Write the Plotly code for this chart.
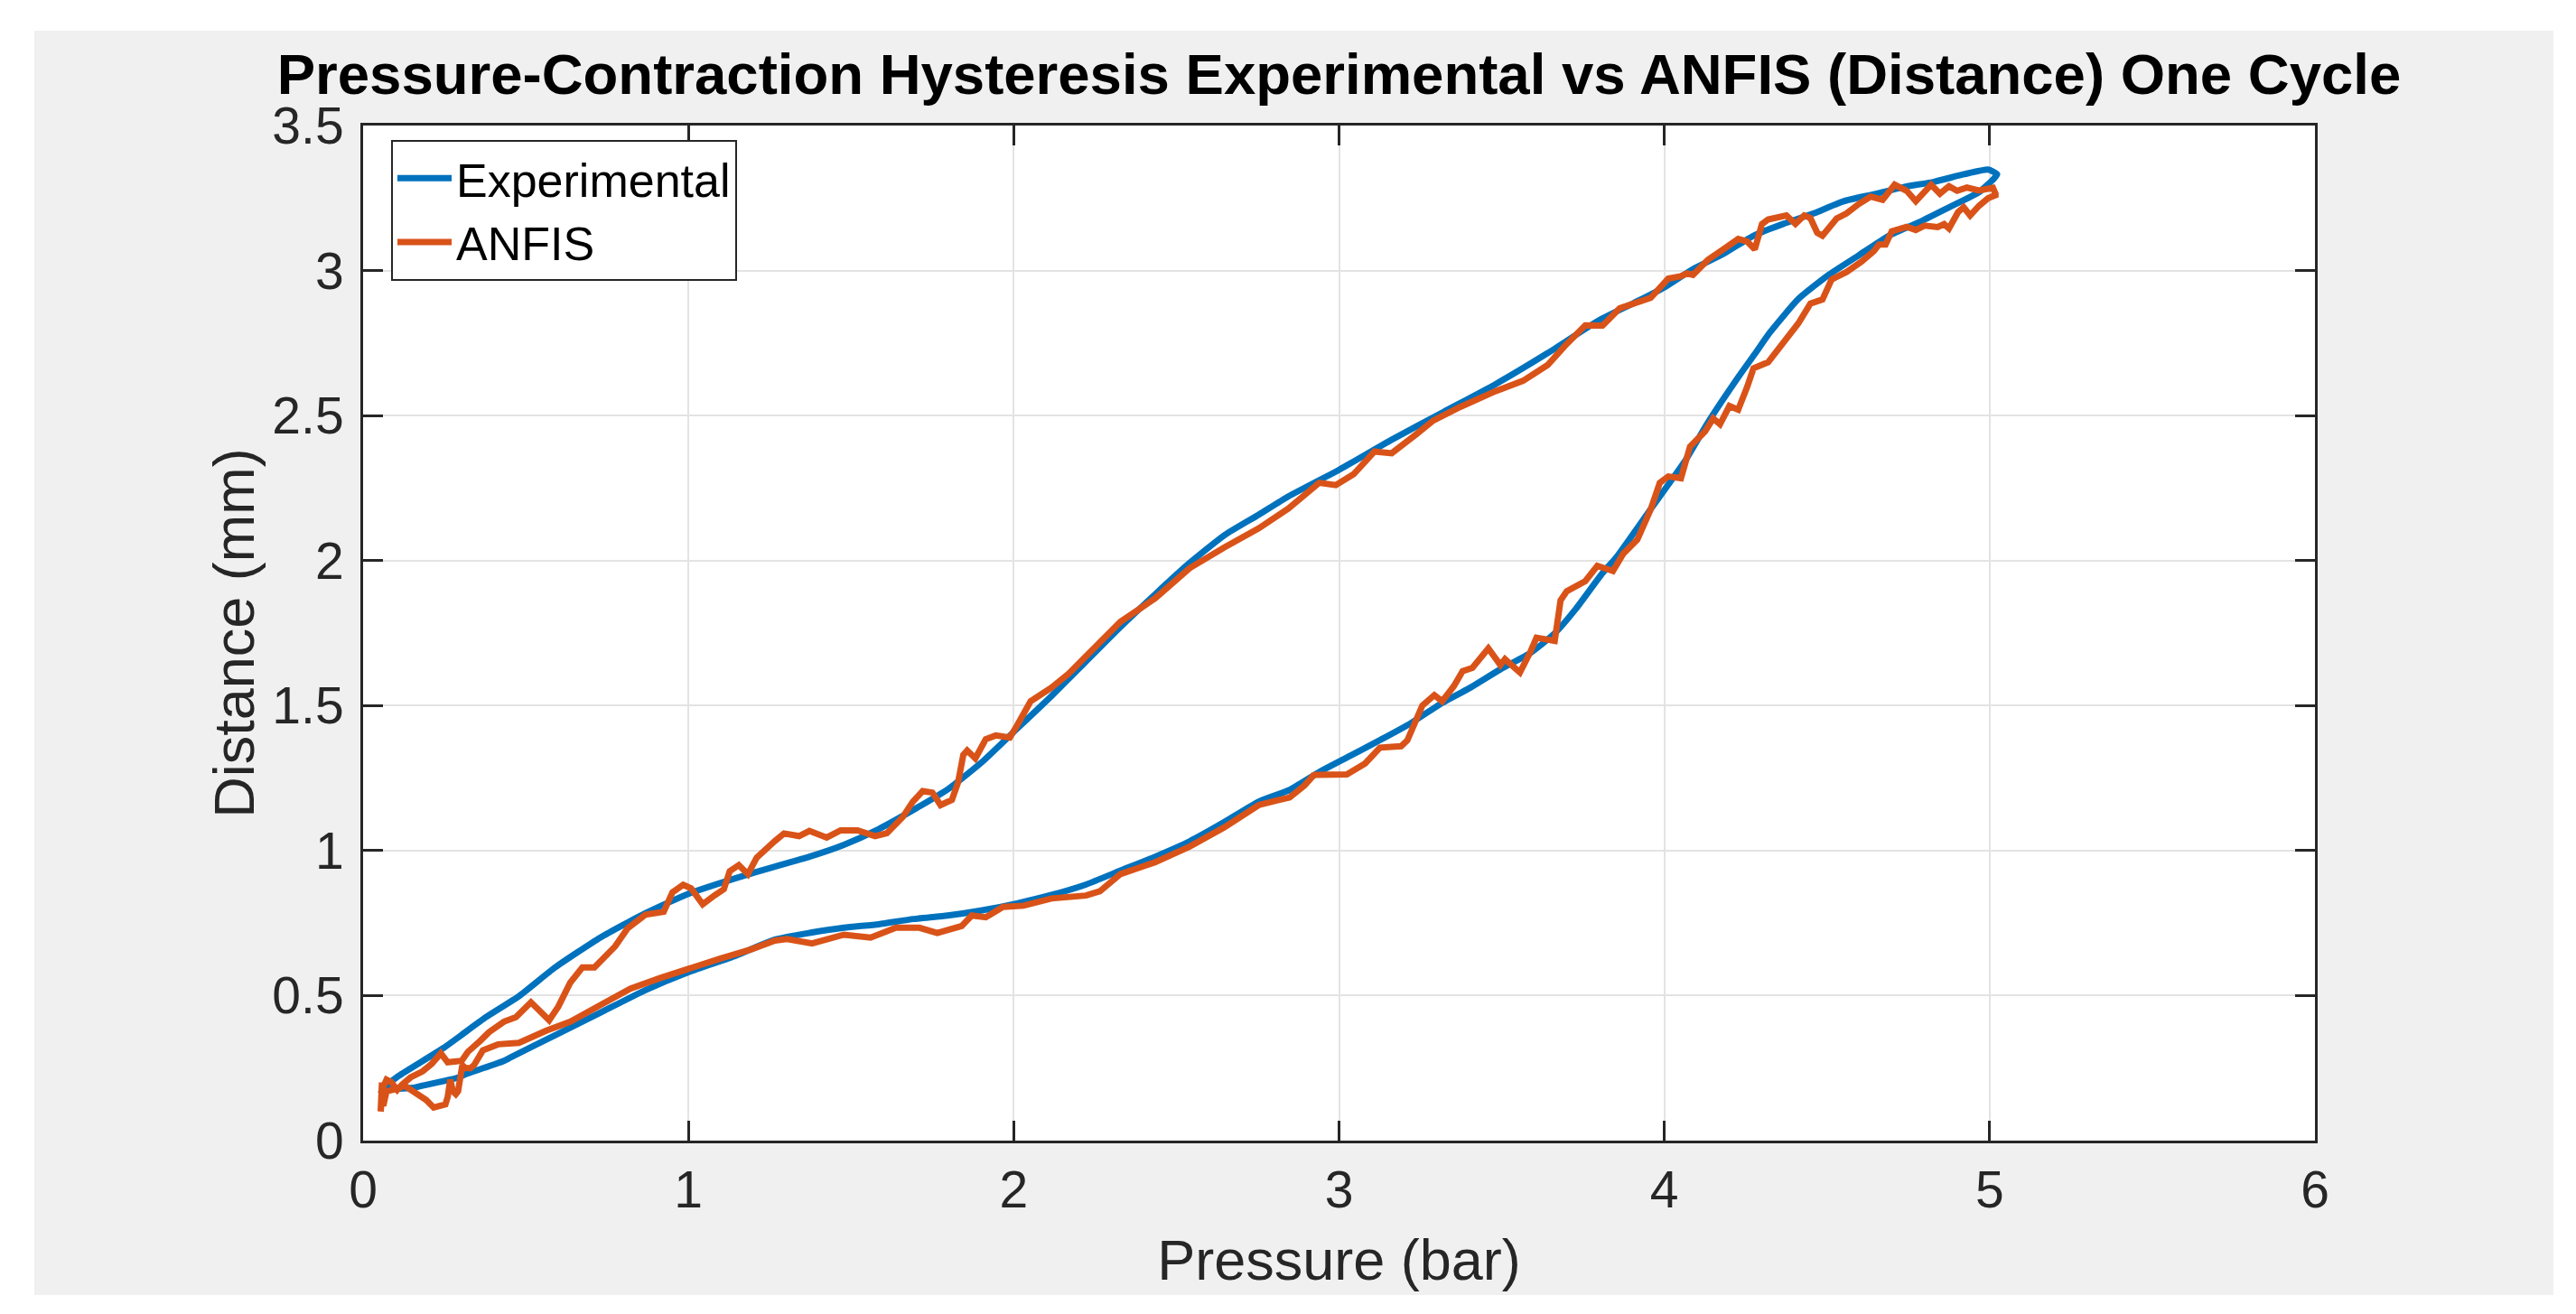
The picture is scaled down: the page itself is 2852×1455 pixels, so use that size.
import plotly.graph_objects as go

# ---------------- data ----------------
# Experimental: loading branch (pressure increasing)
exp_load_p = [0.055, 0.09, 0.155, 0.174, 0.294, 0.313, 0.433, 0.452, 0.59, 0.729, 0.868, 1.0,
              1.146, 1.266, 1.372, 1.478, 1.585, 1.691, 1.797, 1.903, 2.01, 2.116, 2.222, 2.328,
              2.435, 2.541, 2.647, 2.753, 2.848, 2.941, 3.033, 3.126, 3.219, 3.311, 3.404, 3.496,
              3.589, 3.663, 3.727, 3.81, 3.853, 3.959, 4.065, 4.134, 4.227, 4.278, 4.325, 4.412,
              4.505, 4.597, 4.69, 4.782, 4.875, 4.967, 5.013, 5.023]
exp_load_d = [0.17, 0.178, 0.182, 0.187, 0.218, 0.228, 0.275, 0.286, 0.363, 0.441, 0.519, 0.581,
              0.638, 0.693, 0.716, 0.734, 0.746, 0.764, 0.776, 0.794, 0.818, 0.847, 0.883, 0.931,
              0.979, 1.032, 1.098, 1.169, 1.209, 1.272, 1.326, 1.381, 1.438, 1.505, 1.562, 1.625,
              1.682, 1.749, 1.832, 1.957, 2.012, 2.179, 2.346, 2.476, 2.632, 2.712, 2.787, 2.902,
              2.985, 3.052, 3.12, 3.166, 3.218, 3.27, 3.317, 3.332]
# Experimental: unloading branch (pressure decreasing)
exp_unload_p = [4.995, 4.921, 4.829, 4.736, 4.644, 4.551, 4.459, 4.366, 4.274, 4.181, 4.088, 4.0,
                3.906, 3.8, 3.641, 3.481, 3.322, 3.162, 3.0, 2.844, 2.753, 2.647, 2.541, 2.435,
                2.328, 2.222, 2.116, 2.01, 1.903, 1.797, 1.691, 1.585, 1.478, 1.372, 1.266, 1.146,
                1.0, 0.868, 0.729, 0.59, 0.479, 0.378, 0.248, 0.109, 0.072, 0.055]
exp_unload_d = [3.348, 3.332, 3.306, 3.288, 3.263, 3.239, 3.197, 3.161, 3.12, 3.057, 3.005, 2.942,
                2.888, 2.829, 2.715, 2.608, 2.513, 2.417, 2.313, 2.221, 2.158, 2.087, 1.992, 1.884,
                1.771, 1.652, 1.533, 1.42, 1.306, 1.211, 1.14, 1.074, 1.02, 0.979, 0.945, 0.905,
                0.851, 0.784, 0.70, 0.597, 0.498, 0.426, 0.32, 0.223, 0.19, 0.17]

# ANFIS: loading branch
anfis_load_p = [0.054, 0.058, 0.062, 0.072, 0.09, 0.11, 0.127, 0.145, 0.161, 0.18, 0.194, 0.217,
                0.235, 0.253, 0.26, 0.268, 0.276, 0.285, 0.292, 0.30, 0.305, 0.315, 0.33, 0.341,
                0.368, 0.415, 0.479, 0.563, 0.637, 0.729, 0.822, 0.914, 1.007, 1.099, 1.192, 1.266,
                1.303, 1.38, 1.478, 1.56, 1.638, 1.71, 1.765, 1.84, 1.871, 1.914, 1.967, 2.03,
                2.116, 2.222, 2.265, 2.328, 2.435, 2.541, 2.647, 2.753, 2.817, 2.848, 2.894, 2.922,
                2.931, 3.024, 3.08, 3.126, 3.191, 3.21, 3.256, 3.293, 3.317, 3.353, 3.38, 3.41,
                3.459, 3.496, 3.51, 3.556, 3.589, 3.607, 3.663, 3.681, 3.70, 3.757, 3.794, 3.842,
                3.874, 3.917, 3.959, 3.986, 4.012, 4.051, 4.079, 4.125, 4.15, 4.171, 4.2, 4.227,
                4.255, 4.274, 4.319, 4.366, 4.412, 4.449, 4.486, 4.514, 4.56, 4.606, 4.644, 4.66,
                4.68, 4.699, 4.745, 4.773, 4.80, 4.84, 4.86, 4.875, 4.903, 4.92, 4.94, 4.967,
                4.995, 5.018]
anfis_load_d = [0.10, 0.20, 0.12, 0.17, 0.175, 0.18, 0.19, 0.175, 0.165, 0.145, 0.14, 0.114,
                0.12, 0.125, 0.15, 0.21, 0.17, 0.16, 0.17, 0.22, 0.26, 0.25, 0.25, 0.26,
                0.311, 0.332, 0.337, 0.379, 0.41, 0.467, 0.524, 0.561, 0.597, 0.628, 0.659, 0.69,
                0.695, 0.68, 0.71, 0.70, 0.734, 0.734, 0.716, 0.74, 0.776, 0.77, 0.806, 0.81,
                0.835, 0.845, 0.86, 0.919, 0.96, 1.014, 1.08, 1.157, 1.175, 1.183, 1.225, 1.26,
                1.261, 1.263, 1.30, 1.355, 1.36, 1.38, 1.50, 1.536, 1.515, 1.567, 1.619, 1.63,
                1.697, 1.64, 1.66, 1.614, 1.687, 1.734, 1.723, 1.863, 1.894, 1.929, 1.982, 1.964,
                2.024, 2.072, 2.179, 2.268, 2.29, 2.284, 2.393, 2.445, 2.49, 2.47, 2.533, 2.52,
                2.60, 2.663, 2.684, 2.751, 2.818, 2.886, 2.90, 2.969, 2.995, 3.031, 3.067, 3.09,
                3.09, 3.135, 3.151, 3.14, 3.155, 3.15, 3.16, 3.145, 3.202, 3.218, 3.19, 3.223,
                3.249, 3.26]
# ANFIS: unloading branch
anfis_unload_p = [5.018, 5.01, 4.967, 4.93, 4.90, 4.875, 4.847, 4.82, 4.773, 4.745, 4.708, 4.671,
                  4.634, 4.597, 4.56, 4.53, 4.486, 4.47, 4.449, 4.43, 4.403, 4.375, 4.357, 4.319,
                  4.30, 4.278, 4.255, 4.227, 4.181, 4.134, 4.088, 4.07, 4.05, 4.012, 3.958, 3.863,
                  3.81, 3.757, 3.694, 3.641, 3.566, 3.481, 3.375, 3.29, 3.237, 3.162, 3.109, 3.045,
                  2.99, 2.939, 2.844, 2.753, 2.647, 2.541, 2.435, 2.328, 2.222, 2.169, 2.116, 2.052,
                  2.01, 1.988, 1.945, 1.914, 1.882, 1.857, 1.845, 1.829, 1.81, 1.775, 1.75, 1.72,
                  1.69, 1.659, 1.61, 1.574, 1.52, 1.468, 1.425, 1.372, 1.34, 1.308, 1.294, 1.266,
                  1.21, 1.183, 1.155, 1.127, 1.109, 1.081, 1.044, 1.008, 0.984, 0.951, 0.924, 0.868,
                  0.813, 0.775, 0.711, 0.674, 0.637, 0.6, 0.572, 0.516, 0.47, 0.433, 0.387, 0.359,
                  0.322, 0.303, 0.28, 0.26, 0.239, 0.211, 0.183, 0.146, 0.119, 0.105, 0.086, 0.072,
                  0.06, 0.054]
anfis_unload_d = [3.265, 3.285, 3.276, 3.286, 3.275, 3.291, 3.265, 3.296, 3.239, 3.275, 3.296, 3.244,
                  3.255, 3.229, 3.197, 3.18, 3.12, 3.13, 3.181, 3.19, 3.161, 3.19, 3.185, 3.176,
                  3.16, 3.073, 3.10, 3.109, 3.073, 3.037, 2.985, 2.99, 2.98, 2.972, 2.906, 2.87,
                  2.81, 2.811, 2.74, 2.674, 2.62, 2.584, 2.531, 2.483, 2.435, 2.37, 2.376, 2.298,
                  2.26, 2.268, 2.179, 2.111, 2.045, 1.974, 1.87, 1.789, 1.67, 1.61, 1.562, 1.515,
                  1.431, 1.39, 1.397, 1.384, 1.318, 1.345, 1.33, 1.235, 1.175, 1.157, 1.2, 1.205,
                  1.169, 1.116, 1.06, 1.05, 1.07, 1.07, 1.045, 1.068, 1.05, 1.056, 1.059, 1.033,
                  0.976, 0.919, 0.95, 0.929, 0.867, 0.846, 0.815, 0.87, 0.882, 0.856, 0.789, 0.779,
                  0.732, 0.67, 0.597, 0.597, 0.545, 0.462, 0.415, 0.477, 0.426, 0.41, 0.374, 0.343,
                  0.306, 0.275, 0.27, 0.27, 0.301, 0.265, 0.239, 0.218, 0.192, 0.175, 0.202, 0.21,
                  0.18, 0.10]

x_ticks = [0, 1, 2, 3, 4, 5, 6]
y_ticks = [0, 0.5, 1, 1.5, 2, 2.5, 3, 3.5]
y_tick_text = ["0", "0.5", "1", "1.5", "2", "2.5", "3", "3.5"]

title_text = "Pressure-Contraction Hysteresis Experimental vs ANFIS (Distance) One Cycle"
series_names = ["Experimental", "ANFIS"]
series_colors = ["#0072BD", "#D95319"]

# ---------------- figure ----------------
W, H = 2852, 1455
L, R, T, B = 394, 2852 - 2555, 131, 1455 - 1255
FONT = "Liberation Sans, Arial, Helvetica, sans-serif"
AX = "#262626"

fig = go.Figure()
fig.add_trace(go.Scatter(x=exp_load_p + exp_unload_p, y=exp_load_d + exp_unload_d,
                         mode="lines", name=series_names[0],
                         line=dict(color=series_colors[0], width=7, shape="spline", smoothing=0.5)))
fig.add_trace(go.Scatter(x=anfis_load_p + anfis_unload_p, y=anfis_load_d + anfis_unload_d,
                         mode="lines", name=series_names[1],
                         line=dict(color=series_colors[1], width=7)))

pw = W - L - R
ph = H - T - B
shapes = [
    # grey figure background (with thin white outer border)
    dict(type="rect", xref="paper", yref="paper", layer="below",
         x0=(30 - L) / pw, x1=(2819 - L) / pw,
         y0=-(1426 - (H - B)) / ph, y1=1 + (T - 26) / ph,
         fillcolor="#f0f0f0", line=dict(width=0)),
    # white axes area
    dict(type="rect", xref="paper", yref="paper", layer="below",
         x0=0, x1=1, y0=0, y1=1, fillcolor="white", line=dict(width=0)),
]

axis_common = dict(
    showline=True, linecolor=AX, linewidth=3, mirror="ticks",
    ticks="inside", ticklen=22, tickwidth=3, tickcolor=AX,
    showgrid=True, gridcolor="#e3e3e3", gridwidth=2, zeroline=False,
    tickfont=dict(family=FONT, size=57, color=AX),
)

fig.update_layout(
    width=W, height=H,
    margin=dict(l=L, r=R, t=T, b=B, autoexpand=False),
    paper_bgcolor="white", plot_bgcolor="white",
    shapes=shapes,
    title=dict(text=title_text, x=0.5, xref="paper", xanchor="center",
               y=1 - 96 / H, yref="container", yanchor="bottom",
               font=dict(family=FONT, size=63.5, color="black", weight="bold")),
    xaxis=dict(range=[0, 6], tickvals=x_ticks, ticktext=[str(v) for v in x_ticks],
               title=dict(text="Pressure (bar)", standoff=25,
                          font=dict(family=FONT, size=63, color=AX)),
               ticklabelstandoff=3, **axis_common),
    yaxis=dict(range=[0, 3.5], tickvals=y_ticks, ticktext=y_tick_text,
               title=dict(text="Distance (mm)", standoff=0,
                          font=dict(family=FONT, size=63, color=AX)),
               ticklabelstandoff=7, **axis_common),
    legend=dict(x=(425 - L) / pw, y=1 - (147 - T) / ph, xanchor="left", yanchor="top",
                bgcolor="white", bordercolor=AX, borderwidth=2,
                font=dict(family=FONT, size=52, color="black"),
                itemwidth=60, tracegroupgap=0),
    showlegend=True,
)

fig.write_html("out.html")
